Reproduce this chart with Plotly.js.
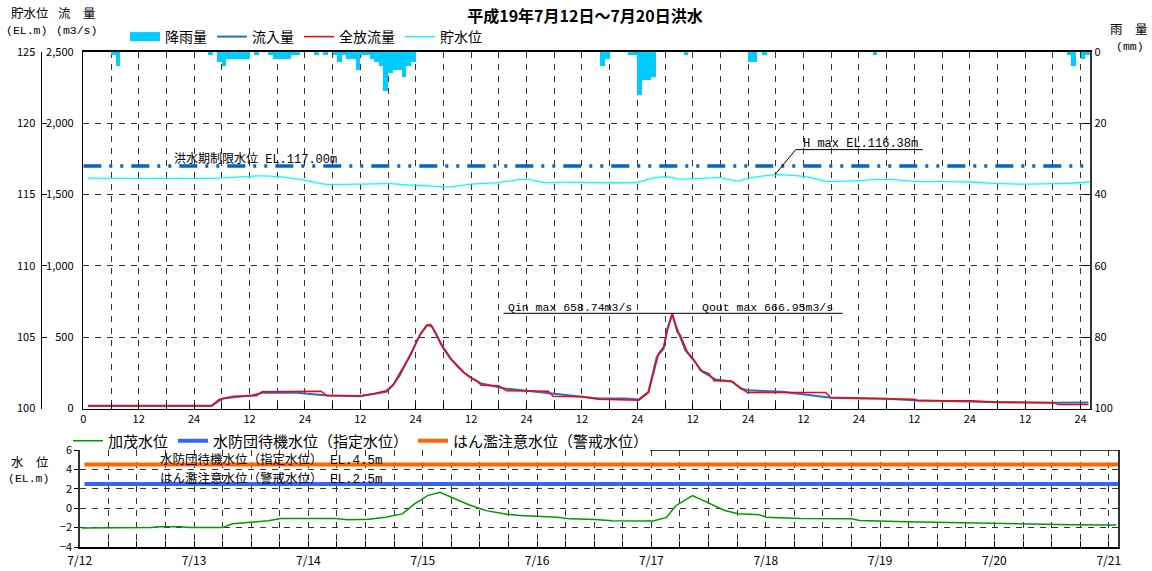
<!DOCTYPE html>
<html><head><meta charset="utf-8">
<script src="https://cdn.plot.ly/plotly-3.0.1.min.js"></script>
<style>html,body{margin:0;padding:0;background:#fff;}#chart{width:1152px;height:571px;}</style>
</head><body><div id="chart"></div>
<script>
// ---- data (hours counted from 7/12 0:00) ----
const rainHour = [6,7,27,29,30,31,32,33,34,35,37,40,41,42,43,44,45,46,50,52,54,55,56,57,58,59,60,61,62,63,64,65,66,67,68,69,70,71,112,113,118,119,120,121,122,123,130,144,145,147,171,213,214,216,217];
const rainMm = [1,4,1,3,4,2,2,2,2,2,1,1,2,2,2,2,1,1,1,1,1,3,1,2,2,5,1,1,2,3,4,11,6,5,5,7,4,3,4,2,1,1,12,8,8,7,1,3,3,1,1,1,4,2,1];

const inflowHour = [1,27.8,30.2,36.6,39,46.2,52.3,60,65.6,67,68.5,70,71.5,73,74.5,75.5,76.5,78,79.5,81,82.5,84,86.2,91.3,100.7,108,111.6,117.4,120.3,122.4,124.2,125.7,126.4,127.5,129,130.4,131.9,134.1,137,140.6,142.4,143.8,151.4,155.7,161.5,173,180,194,210,217.7];
const inflow = [20,20,70,93,112,110,93,86,117,160,230,320,420,520,585,575,510,420,350,300,250,215,175,140,105,82,70,70,63,117,362,420,548,658.74,525,408,350,257,203,187,140,128,117,98,77,70,58,47,40,42];

const outflowHour = [1,27.8,29.4,32.6,37.5,38.7,51.5,52.8,60,63.2,65.6,67.2,68.4,69.7,71,72.3,73.2,74.3,75.2,76.5,77.5,78.6,79.7,81.2,82.5,84,85.4,86.2,89.9,91.7,100.7,101.8,108,111.6,120.3,122.4,124.6,125.7,126.6,127.6,128.6,129.3,130.8,132.6,133.6,135.5,136.6,140.2,141.6,143.8,160.8,161.9,167.6,180,180.8,192.3,198,210.4,211.2,217.7];
const outflow = [18,18,63,86,89,117,121,89,89,105,124,170,240,310,380,480,530,580,590,520,450,400,345,290,250,215,190,163,159,124,121,86,82,65,58,110,385,432,560,666.95,537,513,397,327,268,245,194,194,163,112,112,75,70,65,54,54,42,40,28,28];

const levelHour = [1,29.8,37.7,42.8,47.8,52.2,60.2,66,71,74.6,79,84,89.9,95.6,100,103.6,120,123,126.2,129.3,137.9,141.7,144.9,150.3,156.5,161.2,173.7,179.8,192.4,198.6,211,218];
const storageLevel = [116.14,116.14,116.30,116.23,116.0,115.72,115.72,115.76,115.65,115.6,115.53,115.72,115.83,116.07,115.83,115.86,115.85,116.12,116.25,116.07,116.17,115.95,116.17,116.38,116.25,115.92,116.05,115.92,115.87,115.75,115.75,115.87];

const kamoHour = [0.4,9.7,14.9,16.7,21.1,23,29.9,32.1,36.1,39.6,42.2,53.6,56.3,60.7,64.2,67.7,70.3,73,75.6,78.2,81.8,85.3,89.7,92.4,95.9,100.3,102.9,108.2,111.7,117.9,120.3,123.1,125.2,128.6,132.2,135.4,138.2,142.7,144.1,151.1,162,163.7,173.5,187.5,198,208.5,217.6];
const kamoLevel = [-2.05,-2.05,-2.0,-1.9,-1.9,-2.0,-2.0,-1.6,-1.4,-1.3,-1.05,-1.05,-1.2,-1.13,-0.93,-0.59,0.44,1.3,1.63,1.12,0.33,-0.25,-0.62,-0.76,-0.86,-0.93,-1.1,-1.17,-1.3,-1.34,-1.31,-0.97,0.28,1.29,0.44,-0.23,-0.57,-0.67,-0.94,-1.07,-1.1,-1.27,-1.4,-1.54,-1.61,-1.71,-1.74];

const floodLimitLevel = 117.00;
const hMaxLevel = 116.38;
const qinMax = 658.74;
const qoutMax = 666.95;
const levelBlue = 2.5;    // drawn in blue
const levelOrange = 4.5;  // drawn in orange
const timeStart = 0, timeEnd = 218;
const dayLabels = ['7/12','7/13','7/14','7/15','7/16','7/17','7/18','7/19','7/20','7/21'];

// ---- ticks ----
const tickVals6 = [];
for (let h = 0; h <= 216; h += 6) tickVals6.push(h);
const topTickText = tickVals6.map(h => h % 12 !== 0 ? '' : (h === 0 ? '0' : (h % 24 === 0 ? '24' : '12')));
const bottomTickText = tickVals6.map(h => h % 24 === 0 ? dayLabels[h / 24] : '');

const W = 1152, H = 571;
const px = x => x / W, py = y => 1 - y / H;
const JP = '"Noto Sans CJK JP", "Noto Sans", sans-serif';
const MONO = '"Liberation Mono", "Noto Sans CJK JP", monospace';
const GRID = '#333';
const DASH = '6px,6px';

const hMaxIdx = storageLevel.indexOf(Math.max(...storageLevel));
const hMaxHour = levelHour[hMaxIdx];

const traces = [
  {type:'scatter', x:[null], y:[null], mode:'lines', name:'降雨量', line:{color:'#00CCFF', width:9}, xaxis:'x', yaxis:'y3', legend:'legend'},
  {type:'bar', x:rainHour.map(h => h + 0.5), y:rainMm, width:1, marker:{color:'#00CCFF', line:{width:0}}, xaxis:'x', yaxis:'y3', showlegend:false, name:'降雨量'},
  {type:'scatter', x:inflowHour, y:inflow, mode:'lines', name:'流入量', line:{color:'#1f6fd0', width:2}, xaxis:'x', yaxis:'y', legend:'legend'},
  {type:'scatter', x:outflowHour, y:outflow, mode:'lines', name:'全放流量', line:{color:'#ff0000', width:1.5}, xaxis:'x', yaxis:'y', legend:'legend'},
  {type:'scatter', x:levelHour, y:storageLevel, mode:'lines', name:'貯水位', line:{color:'#00FFFF', width:1.3, shape:'spline', smoothing:0.6}, xaxis:'x', yaxis:'y2', legend:'legend'},
  {type:'scatter', x:[timeStart, timeEnd], y:[floodLimitLevel, floodLimitLevel], mode:'lines', showlegend:false, name:'洪水期制限水位', line:{color:'#0066CC', width:3.5, dash:'18px,8px,3px,8px,3px,8px'}, xaxis:'x', yaxis:'y2'},
  {type:'scatter', x:kamoHour, y:kamoLevel, mode:'lines', name:'加茂水位', line:{color:'#009900', width:1.5}, xaxis:'x2', yaxis:'y4', legend:'legend2'},
  {type:'scatter', x:[1, timeEnd], y:[levelBlue, levelBlue], mode:'lines', name:'水防団待機水位（指定水位）', line:{color:'#3366FF', width:4}, xaxis:'x2', yaxis:'y4', legend:'legend2'},
  {type:'scatter', x:[1, timeEnd], y:[levelOrange, levelOrange], mode:'lines', name:'はん濫注意水位（警戒水位）', line:{color:'#FF6600', width:4}, xaxis:'x2', yaxis:'y4', legend:'legend2'}
];

const ann = (text, x, y, opts) => Object.assign({text, x, y, xref:'paper', yref:'paper', xanchor:'center', yanchor:'middle', showarrow:false, borderpad:0, font:{family:JP, size:12, color:'#000'}}, opts || {});

const hmX1 = hMaxHour + 4, hmY1 = hMaxLevel + 1.76;

const layout = {
  width:W, height:H,
  margin:{l:0, r:0, t:0, b:0},
  paper_bgcolor:'#fff', plot_bgcolor:'rgba(0,0,0,0)',
  font:{family:JP, size:11, color:'#000'},
  title:{text:'平成19年7月12日～7月20日洪水', font:{family:JP, size:16, weight:700, color:'#000'},
         x:px(585), xanchor:'center', xref:'container', y:py(16), yref:'container', yanchor:'middle'},
  showlegend:true,
  bargap:0,
  xaxis:{domain:[px(83.3), px(1089.8)], range:[timeStart, timeEnd], anchor:'y', tickmode:'array', tickvals:tickVals6, ticktext:topTickText,
         showgrid:true, gridcolor:GRID, griddash:DASH, gridwidth:1, ticks:'inside', ticklen:6, tickcolor:'#000',
         showline:true, mirror:true, linecolor:'#000', linewidth:1.5, zeroline:false, tickfont:{size:11}, fixedrange:true},
  yaxis:{domain:[py(408.5), py(51.7)], range:[0, 2500], dtick:500, tickformat:',', anchor:'x',
         showgrid:true, gridcolor:GRID, griddash:DASH, gridwidth:1, zeroline:false,
         showline:true, linecolor:'#000', linewidth:1.5, ticks:'', ticklabelstandoff:6, tickfont:{size:11}, fixedrange:true},
  yaxis2:{overlaying:'y', anchor:'free', position:px(40.5), side:'left', range:[100, 125], dtick:5,
          showgrid:false, zeroline:false, showline:true, linecolor:'#000', linewidth:1, ticks:'inside', ticklen:5, tickcolor:'#000',
          ticklabelstandoff:3, tickfont:{size:11}, fixedrange:true},
  yaxis3:{overlaying:'y', side:'right', anchor:'x', range:[100, 0], dtick:20,
          showgrid:false, zeroline:false, showline:true, linecolor:'#333', linewidth:2.5, ticks:'inside', ticklen:6, tickcolor:'#000',
          tickfont:{size:11}, fixedrange:true},
  xaxis2:{domain:[px(79.7), px(1118.3)], range:[timeStart, timeEnd], anchor:'y4', tickmode:'array', tickvals:tickVals6, ticktext:bottomTickText,
          showgrid:true, gridcolor:GRID, griddash:DASH, gridwidth:1, ticks:'inside', ticklen:6, tickcolor:'#000',
          showline:true, linecolor:'#000', linewidth:1.5, zeroline:false, tickfont:{size:12}, ticklabelstandoff:2, fixedrange:true},
  yaxis4:{domain:[py(547), py(450)], range:[-4, 6], dtick:2, anchor:'x2',
          showgrid:true, gridcolor:GRID, griddash:DASH, gridwidth:1, zeroline:false,
          showline:true, mirror:true, linecolor:'#333', linewidth:1.5, ticks:'outside', ticklen:4, tickcolor:'#000',
          tickfont:{size:11}, fixedrange:true},
  legend:{x:px(125), xanchor:'left', y:py(37), yanchor:'middle', orientation:'h', font:{family:JP, size:14, color:'#000'},
          itemwidth:30, bgcolor:'rgba(0,0,0,0)', borderwidth:0, traceorder:'normal'},
  legend2:{x:px(68), xanchor:'left', y:py(441), yanchor:'middle', orientation:'h', font:{family:JP, size:15, color:'#000'},
          itemwidth:30, bgcolor:'rgba(0,0,0,0)', borderwidth:0, traceorder:'normal'},
  shapes:[
    {type:'line', xref:'x', yref:'y2', x0:hMaxHour - 0.5, y0:hMaxLevel, x1:hmX1, y1:hmY1, line:{color:'#000', width:1}},
    {type:'line', xref:'x', yref:'y2', x0:hmX1, y0:hmY1, x1:hmX1 + 27.5, y1:hmY1, line:{color:'#000', width:1}},
    {type:'line', xref:'x', yref:'y', x0:91, y0:qoutMax, x1:164.5, y1:qoutMax, line:{color:'#000', width:1}},
    {type:'line', xref:'paper', yref:'y4', x0:px(650), y0:6, x1:px(1118.3), y1:6, line:{color:'#000', width:1.5}}
  ],
  annotations:[
    ann('貯水位', px(30), py(13), {font:{family:JP, size:12.5}}),
    ann('流　量', px(77), py(13), {font:{family:JP, size:12.5}}),
    ann('(EL.m)', px(26), py(30), {font:{family:MONO, size:11.5}}),
    ann('(m3/s)', px(76), py(30), {font:{family:MONO, size:11.5}}),
    ann('雨　量', px(1129), py(29), {font:{family:JP, size:12.5}}),
    ann('(mm)', px(1130), py(46), {font:{family:MONO, size:11.5}}),
    ann('水　位', px(30), py(461), {font:{family:JP, size:12.5}}),
    ann('(EL.m)', px(28), py(478), {font:{family:MONO, size:11.5}}),
    {text:'洪水期制限水位 EL.' + floodLimitLevel.toFixed(2) + 'm', x:19.2, y:floodLimitLevel, xref:'x', yref:'y2', xanchor:'left', yanchor:'middle', yshift:6, showarrow:false, font:{family:MONO, size:12, color:'#000'}},
    {text:'H max EL.' + hMaxLevel.toFixed(2) + 'm', x:hmX1 + 1.2, y:hmY1, xref:'x', yref:'y2', xanchor:'left', yanchor:'middle', yshift:6, showarrow:false, font:{family:MONO, size:12, color:'#000'}},
    {text:'Qin max ' + qinMax.toFixed(2) + 'm3/s', x:91.6, y:qoutMax, xref:'x', yref:'y', xanchor:'left', yanchor:'middle', yshift:6, showarrow:false, font:{family:MONO, size:11.5, color:'#000'}},
    {text:'Qout max ' + qoutMax.toFixed(2) + 'm3/s', x:133.6, y:qoutMax, xref:'x', yref:'y', xanchor:'left', yanchor:'middle', yshift:6, showarrow:false, font:{family:MONO, size:11.5, color:'#000'}},
    {text:'水防団待機水位（指定水位） EL.' + levelOrange + 'm', x:16.4, y:levelOrange, xref:'x2', yref:'y4', xanchor:'left', yanchor:'middle', yshift:5, showarrow:false, font:{family:MONO, size:12.5, color:'#000'}},
    {text:'はん濫注意水位（警戒水位） EL.' + levelBlue + 'm', x:16.4, y:levelBlue, xref:'x2', yref:'y4', xanchor:'left', yanchor:'middle', yshift:5, showarrow:false, font:{family:MONO, size:12.5, color:'#000'}}
  ]
};

Plotly.newPlot('chart', traces, layout, {displayModeBar:false, staticPlot:true});
</script>
</body></html>
